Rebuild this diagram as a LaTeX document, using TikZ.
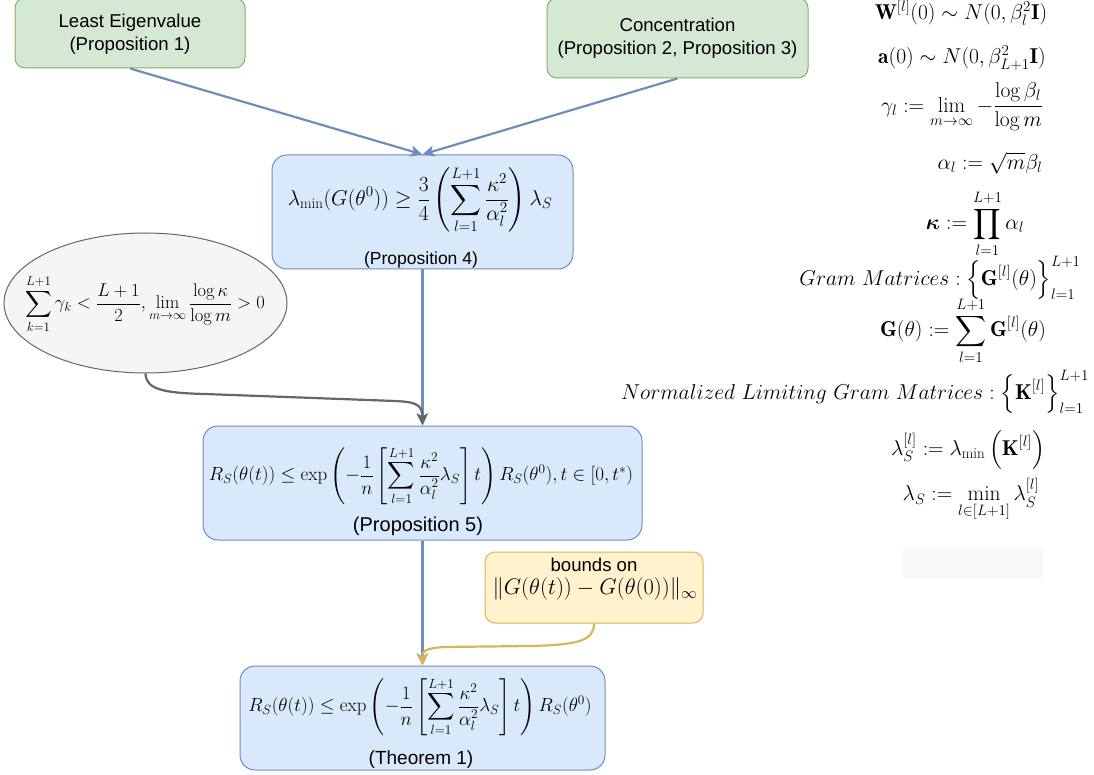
\RequirePackage{fix-cm}
\documentclass[tikz,border=0pt]{standalone}
\usepackage{amsmath,amssymb,bm}
\usepackage{fontspec}
\newfontfamily\arialf{Liberation Sans}
\usetikzlibrary{shapes.geometric,arrows.meta}
\definecolor{gfill}{HTML}{D5E8D4}\definecolor{gline}{HTML}{82B366}
\definecolor{bfill}{HTML}{DAE8FC}\definecolor{bline}{HTML}{6C8EBF}
\definecolor{yfill}{HTML}{FFF2CC}\definecolor{yline}{HTML}{D6B656}
\definecolor{efill}{HTML}{F5F5F5}\definecolor{eline}{HTML}{666666}
\definecolor{faint}{HTML}{F8F8F8}
\tikzset{
  sanslbl/.style={font=\arialf\fontsize{18.6}{23}\selectfont, align=center, inner sep=0pt, text=black},
  mathlbl/.style={font=\fontsize{21.5}{24}\selectfont, inner sep=0pt},
  greenbox/.style={draw=gline, fill=gfill, line width=1pt, rounded corners=10pt},
  bluebox/.style={draw=bline, fill=bfill, line width=1pt, rounded corners=15pt},
  yellowbox/.style={draw=yline, fill=yfill, line width=1pt, rounded corners=10pt},
  bluearrow/.style={draw=bline, line width=2.2pt, -{Stealth[length=12pt,width=11pt,inset=3pt]}},
  grayarrow/.style={draw=eline, line width=2.2pt, -{Stealth[length=12pt,width=11pt,inset=3pt]}},
  yellowarrow/.style={draw=yline, line width=2.2pt, -{Stealth[length=12pt,width=11pt,inset=3pt]}},
}
\begin{document}
\begin{tikzpicture}[x=1pt,y=-1pt]
\useasboundingbox (0,0) rectangle (1094,775);

% green boxes
\node[greenbox, minimum width=230pt, minimum height=70pt] (g1) at (130,33) {};
\node[sanslbl] (g1t) at (130,34) {Least Eigenvalue\\(Proposition 1)};
\node[greenbox, minimum width=261pt, minimum height=80pt] (g2) at (677.5,38) {};
\node[sanslbl] (g2t) at (677.5,38) {Concentration\\(Proposition 2, Proposition 3)};

% ellipse
\node[ellipse, draw=eline, fill=efill, line width=1pt, minimum width=283pt, minimum height=140pt] (e) at (145.5,303) {};
\node[mathlbl, font=\fontsize{18.5}{22}\selectfont] (ef) at (145,304) {$\displaystyle \sum_{k=1}^{L+1}\gamma_k < \frac{L+1}{2}, \lim_{m\to\infty}\frac{\log\kappa}{\log m} > 0$};

% proposition 4
\node[bluebox, minimum width=301pt, minimum height=114pt] (p4) at (422.5,212) {};
\node[mathlbl] (p4f) at (420,200) {$\displaystyle \lambda_{\min}(G(\theta^0)) \geq \frac{3}{4}\left(\sum_{l=1}^{L+1}\frac{\kappa^2}{\alpha_l^2}\right)\lambda_S$};
\node[sanslbl, font=\arialf\fontsize{17.5}{20}\selectfont] (p4l) at (421,260) {(Proposition 4)};

% proposition 5
\node[bluebox, minimum width=439pt, minimum height=114pt] (p5) at (422.5,483) {};
\node[mathlbl, font=\fontsize{19}{22}\selectfont] (p5f) at (421,476) {$\displaystyle R_S(\theta(t)) \leq \exp\left(-\frac{1}{n}\left[\sum_{l=1}^{L+1}\frac{\kappa^2}{\alpha_l^2}\lambda_S\right]t\right)R_S(\theta^0), t\in[0,t^*)$};
\node[sanslbl, font=\arialf\fontsize{20}{24}\selectfont] (p5l) at (418,526) {(Proposition 5)};

% yellow box
\node[yellowbox, minimum width=218pt, minimum height=71pt] (yb) at (594,587.5) {};
\node[sanslbl] (ybt) at (594,565) {bounds on};
\node[mathlbl, font=\fontsize{22.5}{26}\selectfont] (ybf) at (595,589) {$\|G(\theta(t)) - G(\theta(0))\|_\infty$};

% theorem
\node[bluebox, minimum width=365pt, minimum height=104pt] (th) at (422.5,718) {};
\node[mathlbl, font=\fontsize{19}{22}\selectfont] (thf) at (420,707) {$\displaystyle R_S(\theta(t)) \leq \exp\left(-\frac{1}{n}\left[\sum_{l=1}^{L+1}\frac{\kappa^2}{\alpha_l^2}\lambda_S\right]t\right)R_S(\theta^0)$};
\node[sanslbl, font=\arialf\fontsize{19}{22}\selectfont] (thl) at (421,760) {(Theorem 1)};

% right-hand definitions
\node[mathlbl] (d1) at (961,13) {$\mathbf{W}^{[l]}(0)\sim N(0,\beta_l^2\mathbf{I})$};
\node[mathlbl] (d2) at (962,58) {$\mathbf{a}(0)\sim N(0,\beta_{L+1}^2\mathbf{I})$};
\node[mathlbl] (d3) at (962,107) {$\displaystyle \gamma_l := \lim_{m\to\infty} -\frac{\log\beta_l}{\log m}$};
\node[mathlbl] (d4) at (990,163) {$\alpha_l := \sqrt{m}\beta_l$};
\node[mathlbl] (d5) at (975,224) {$\displaystyle \bm{\kappa} := \prod_{l=1}^{L+1}\alpha_l$};
\node[mathlbl] (d6) at (940,278) {$\displaystyle Gram\ Matrices : \left\{\mathbf{G}^{[l]}(\theta)\right\}_{l=1}^{L+1}$};
\node[mathlbl] (d7) at (963,331) {$\displaystyle \mathbf{G}(\theta) := \sum_{l=1}^{L+1}\mathbf{G}^{[l]}(\theta)$};
\node[mathlbl] (d8) at (855,392) {$\displaystyle Normalized\ Limiting\ Gram\ Matrices : \left\{\mathbf{K}^{[l]}\right\}_{l=1}^{L+1}$};
\node[mathlbl] (d9) at (968,450) {$\displaystyle \lambda_S^{[l]} := \lambda_{\min}\left(\mathbf{K}^{[l]}\right)$};
\node[mathlbl] (d10) at (971,500) {$\displaystyle \lambda_S := \min_{l\in[L+1]}\lambda_S^{[l]}$};
\node[fill=faint, minimum width=140pt, minimum height=31pt, inner sep=0pt] (blank) at (973,562.5) {};

% connectors
\draw[bluearrow] (g1.south) -- (p4.north);
\draw[bluearrow] (g2.south) -- (p4.north);
\draw[bluearrow] (p4.south) -- (p5.north);
\draw[grayarrow] (e.south) .. controls (146,389) and (162,393) .. (205,394) -- (395,401) .. controls (419,402) and (422,406) .. (p5.north);
\draw[bluearrow] (p5.south) -- (th.north);
\draw[yellowarrow] (yb.south) .. controls (594,640) and (580,645) .. (530,646) -- (445,647) .. controls (424,648) and (422,652) .. (th.north);
\end{tikzpicture}
\end{document}
